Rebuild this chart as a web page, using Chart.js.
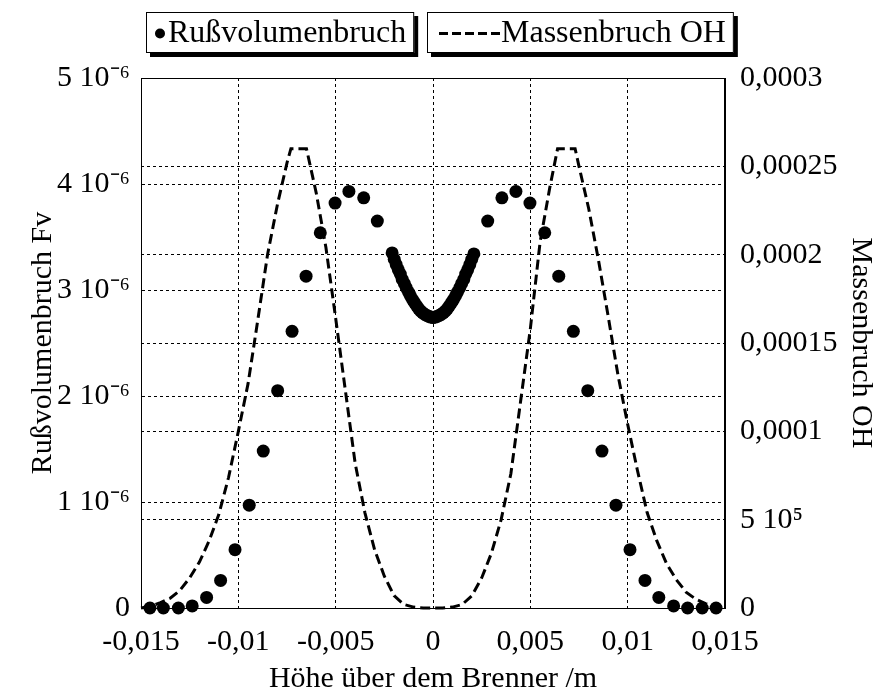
<!DOCTYPE html>
<html>
<head>
<meta charset="utf-8">
<script src="https://cdn.jsdelivr.net/npm/chart.js@4.4.1/dist/chart.umd.min.js"></script>
<style>
  html, body { margin: 0; padding: 0; background: #fff; }
  #wrap { width: 880px; height: 700px; }
</style>
</head>
<body>
<div id="wrap"><canvas id="c" width="880" height="700"></canvas></div>
<script>
// ---- Data ----
const seriesNames = ['Rußvolumenbruch', 'Massenbruch OH'];

const sootX = [-0.01454, -0.01385, -0.01308, -0.01237, -0.01163, -0.01091, -0.01017, -0.00944, -0.00872, -0.00798,
  -0.00724, -0.00652, -0.00579, -0.00503, -0.00432, -0.00356, -0.00286,
  -0.0021, -0.00199, -0.00189, -0.00178, -0.00168, -0.00158, -0.00147, -0.00137, -0.00126, -0.00116,
  -0.00105, -0.00095, -0.00084, -0.00074, -0.00063, -0.00053, -0.00042, -0.00032, -0.00021, -0.00011, 0,
  0.00011, 0.00021, 0.00032, 0.00042, 0.00053, 0.00063, 0.00074, 0.00084, 0.00095, 0.00105,
  0.00116, 0.00126, 0.00137, 0.00147, 0.00158, 0.00168, 0.00178, 0.00189, 0.00199, 0.0021,
  0.00281, 0.00354, 0.00426, 0.00498, 0.00574, 0.00646, 0.00721, 0.00795, 0.00868, 0.0094,
  0.01012, 0.01089, 0.0116, 0.01236, 0.01308, 0.01383, 0.01454];
const sootY = [0, 0, 0, 0.02e-6, 0.10e-6, 0.26e-6, 0.55e-6, 0.97e-6, 1.48e-6, 2.05e-6,
  2.61e-6, 3.13e-6, 3.54e-6, 3.82e-6, 3.93e-6, 3.87e-6, 3.65e-6,
  3.35e-6, 3.29e-6, 3.24e-6, 3.19e-6, 3.15e-6, 3.10e-6, 3.06e-6, 3.02e-6, 2.98e-6, 2.945e-6,
  2.91e-6, 2.88e-6, 2.85e-6, 2.825e-6, 2.80e-6, 2.785e-6, 2.77e-6, 2.76e-6, 2.75e-6, 2.745e-6, 2.74e-6,
  2.745e-6, 2.75e-6, 2.76e-6, 2.77e-6, 2.785e-6, 2.80e-6, 2.825e-6, 2.85e-6, 2.88e-6, 2.91e-6,
  2.945e-6, 2.98e-6, 3.02e-6, 3.06e-6, 3.10e-6, 3.15e-6, 3.19e-6, 3.24e-6, 3.29e-6, 3.34e-6,
  3.65e-6, 3.87e-6, 3.93e-6, 3.82e-6, 3.54e-6, 3.13e-6, 2.61e-6, 2.05e-6, 1.48e-6, 0.97e-6,
  0.55e-6, 0.26e-6, 0.10e-6, 0.02e-6, 0, 0, 0];

const ohX = [-0.015, -0.0145, -0.014, -0.0135, -0.013, -0.0125, -0.012, -0.0115, -0.011, -0.0105,
  -0.01, -0.0095, -0.009, -0.0085, -0.008, -0.0075, -0.0073, -0.0065, -0.006, -0.0055,
  -0.005, -0.0045, -0.004, -0.0035, -0.003, -0.0025, -0.002, -0.0015, -0.001, -0.0005,
  0,
  0.0005, 0.001, 0.0015, 0.002, 0.0025, 0.003, 0.0035, 0.004, 0.0045, 0.005,
  0.0055, 0.006, 0.0064, 0.0073, 0.0075, 0.008, 0.0085, 0.009, 0.0095, 0.01,
  0.0105, 0.011, 0.0115, 0.012, 0.0125, 0.013, 0.0135, 0.014, 0.0145, 0.015];
const ohY = [0, 1e-6, 3e-6, 5.5e-6, 1.0e-5, 1.7e-5, 2.6e-5, 3.8e-5, 5.3e-5, 7.4e-5,
  1.0e-4, 1.27e-4, 1.63e-4, 2.0e-4, 2.28e-4, 2.52e-4, 2.6e-4, 2.6e-4, 2.35e-4, 2.04e-4,
  1.64e-4, 1.23e-4, 8.2e-5, 5.4e-5, 3.3e-5, 1.8e-5, 7e-6, 2e-6, 5e-7, 0,
  0,
  0, 5e-7, 2e-6, 7e-6, 1.7e-5, 3.1e-5, 5.0e-5, 7.6e-5, 1.17e-4, 1.58e-4,
  2.07e-4, 2.38e-4, 2.6e-4, 2.6e-4, 2.5e-4, 2.26e-4, 1.97e-4, 1.65e-4, 1.32e-4, 1.04e-4,
  7.8e-5, 5.4e-5, 3.8e-5, 2.5e-5, 1.6e-5, 9e-6, 5e-6, 2.5e-6, 1e-6, 0];

const xTickValues = [-0.015, -0.01, -0.005, 0, 0.005, 0.01, 0.015];
const xTickLabels = ['-0,015', '-0,01', '-0,005', '0', '0,005', '0,01', '0,015'];
const yLeftTickValues = [0, 1e-6, 2e-6, 3e-6, 4e-6, 5e-6];
const yLeftTickLabels = ['0', '1 10\u207B\u2076', '2 10\u207B\u2076', '3 10\u207B\u2076', '4 10\u207B\u2076', '5 10\u207B\u2076'];
const yRightTickValues = [0, 0.00005, 0.0001, 0.00015, 0.0002, 0.00025, 0.0003];
const yRightTickLabels = ['0', '5 10\u2075', '0,0001', '0,00015', '0,0002', '0,00025', '0,0003'];

const xTitle = 'Höhe über dem Brenner /m';
const yLeftTitle = 'Rußvolumenbruch Fv';
const yRightTitle = 'Massenbruch OH';

// ---- Chart ----
const FONT = "'Liberation Serif', 'Times New Roman', serif";
const FS = 30;
const LEG_FS = 32;

const gridOpts = { color: '#000', lineWidth: 1, tickLength: 0, drawTicks: false };
const borderOpts = { display: true, color: '#000', width: 1, dash: [3, 3] };

const framePlugin = {
  id: 'frame',
  beforeDatasetsDraw(chart) {
    const { ctx, chartArea: a } = chart;
    ctx.save();
    ctx.strokeStyle = '#000';
    ctx.lineWidth = 1;
    ctx.setLineDash([]);
    ctx.strokeRect(Math.round(a.left) + 0.5, Math.round(a.top) + 0.5, Math.round(a.right - a.left) - 1, Math.round(a.bottom - a.top));
    ctx.restore();
  }
};

const legendPlugin = {
  id: 'boxLegend',
  afterDraw(chart) {
    const ctx = chart.ctx;
    ctx.save();
    ctx.font = LEG_FS + 'px ' + FONT;
    ctx.textBaseline = 'middle';
    const boxes = [
      { x: 146, y: 12, h: 41, kind: 'dot', label: chart.data.datasets[0].label },
      { x: 427, y: 12, h: 41, kind: 'dash', label: chart.data.datasets[1].label }
    ];
    boxes.forEach(b => {
      const tw = ctx.measureText(b.label).width;
      const symW = b.kind === 'dot' ? 14 : 66;
      const w = 8 + symW + tw + 8;
      ctx.fillStyle = '#000';
      ctx.fillRect(b.x + 4, b.y + 4, w, b.h);
      ctx.fillStyle = '#fff';
      ctx.fillRect(b.x, b.y, w, b.h);
      ctx.strokeStyle = '#000';
      ctx.lineWidth = 1;
      ctx.setLineDash([]);
      ctx.strokeRect(b.x + 0.5, b.y + 0.5, w - 1, b.h - 1);
      const cy = b.y + b.h / 2 + 1;
      if (b.kind === 'dot') {
        ctx.fillStyle = '#000';
        ctx.beginPath();
        ctx.arc(b.x + 14, cy, 5, 0, Math.PI * 2);
        ctx.fill();
      } else {
        ctx.strokeStyle = '#000';
        ctx.lineWidth = 3;
        ctx.setLineDash([9, 4]);
        ctx.beginPath();
        ctx.moveTo(b.x + 12, cy);
        ctx.lineTo(b.x + 8 + symW, cy);
        ctx.stroke();
        ctx.setLineDash([]);
      }
      ctx.fillStyle = '#000';
      ctx.fillText(b.label, b.x + 8 + symW, cy);
    });
    ctx.restore();
  }
};

new Chart(document.getElementById('c'), {
  type: 'scatter',
  data: {
    datasets: [
      {
        label: seriesNames[0],
        data: sootX.map((x, i) => ({ x: x, y: sootY[i] })),
        yAxisID: 'y',
        showLine: false,
        pointRadius: 6.5,
        pointBackgroundColor: '#000',
        pointBorderColor: '#000',
        pointBorderWidth: 0,
        clip: false,
        order: 1
      },
      {
        label: seriesNames[1],
        data: ohX.map((x, i) => ({ x: x, y: ohY[i] })),
        yAxisID: 'y1',
        showLine: true,
        borderColor: '#000',
        borderWidth: 3,
        borderDash: [10, 5],
        pointRadius: 0,
        tension: 0,
        fill: false,
        clip: false,
        order: 2
      }
    ]
  },
  options: {
    responsive: false,
    animation: false,
    devicePixelRatio: 1,
    layout: { padding: { top: 78, left: 0, right: 0, bottom: 0 } },
    plugins: {
      legend: { display: false },
      tooltip: { enabled: false }
    },
    scales: {
      x: {
        type: 'linear',
        min: -0.015, max: 0.015,
        afterBuildTicks: s => { s.ticks = xTickValues.map(v => ({ value: v })); },
        ticks: {
          callback: (v, i) => xTickLabels[i],
          color: '#000', font: { family: FONT, size: FS }, padding: 16, maxRotation: 0, autoSkip: false
        },
        grid: gridOpts,
        border: borderOpts,
        title: { display: true, text: xTitle, color: '#000', font: { family: FONT, size: FS }, padding: { top: 0, bottom: 3 } },
        afterFit: s => { s.height = 92; }
      },
      y: {
        type: 'linear', position: 'left',
        min: 0, max: 5e-6,
        afterBuildTicks: s => { s.ticks = yLeftTickValues.map(v => ({ value: v })); },
        ticks: {
          callback: (v, i) => yLeftTickLabels[i],
          color: '#000', font: { family: FONT, size: FS }, padding: 11, autoSkip: false
        },
        grid: gridOpts,
        border: borderOpts,
        title: { display: true, text: yLeftTitle, color: '#000', font: { family: FONT, size: FS }, padding: { top: 25, bottom: 0 } },
        afterFit: s => { s.width = 141; }
      },
      y1: {
        type: 'linear', position: 'right',
        min: 0, max: 0.0003,
        afterBuildTicks: s => { s.ticks = yRightTickValues.map(v => ({ value: v })); },
        ticks: {
          callback: (v, i) => yRightTickLabels[i],
          color: '#000', font: { family: FONT, size: FS }, padding: 15, autoSkip: false
        },
        grid: Object.assign({}, gridOpts, { drawOnChartArea: true }),
        border: borderOpts,
        title: { display: true, text: yRightTitle, color: '#000', font: { family: FONT, size: FS }, padding: { top: 1, bottom: 0 } },
        afterFit: s => { s.width = 155; }
      }
    }
  },
  plugins: [framePlugin, legendPlugin]
});
</script>
</body>
</html>
